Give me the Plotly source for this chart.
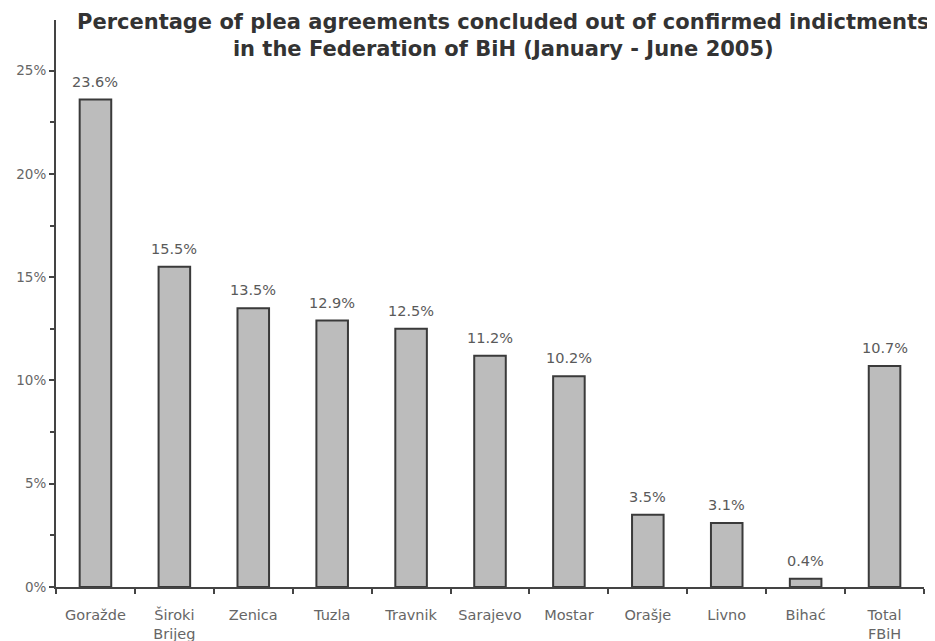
import plotly.graph_objects as go

categories = ["Goražde", "Široki<br>Brijeg", "Zenica", "Tuzla", "Travnik", "Sarajevo",
              "Mostar", "Orašje", "Livno", "Bihać", "Total<br>FBiH"]
values = [23.6, 15.5, 13.5, 12.9, 12.5, 11.2, 10.2, 3.5, 3.1, 0.4, 10.7]
value_labels = [f"{v:.1f}%" for v in values]
y_ticks = [0, 5, 10, 15, 20, 25]
y_tick_labels = [f"{t}%" for t in y_ticks]
title_text = ("Percentage of plea agreements concluded out of confirmed indictments<br>"
              "in the Federation of BiH (January - June 2005)")

fig = go.Figure(go.Bar(
    x=categories, y=values,
    marker=dict(color="#bcbcbc", line=dict(color="#3a3a3a", width=2)),
))

for c, v, lab in zip(categories, values, value_labels):
    fig.add_annotation(
        x=c, y=v, text=lab, showarrow=False,
        yanchor="middle", yshift=18,
        font=dict(family="DejaVu Sans", size=14.5, color="#5a5a5a"),
    )

fig.update_layout(
    width=935, height=641,
    paper_bgcolor="white", plot_bgcolor="white",
    margin=dict(l=48, r=19, t=12, b=62),
    bargap=0.6,
    showlegend=False,
    font=dict(family="DejaVu Sans", color="#666666"),
)

fig.add_annotation(
    text=title_text, xref="paper", yref="paper",
    x=0.516, xanchor="center", y=1.021, yanchor="top",
    showarrow=False, align="center",
    font=dict(family="DejaVu Sans", size=21, color="#333333", weight="bold"),
)

fig.update_xaxes(
    range=[-0.5, 10.5], automargin=False,
    showline=True, linecolor="#444444", linewidth=2,
    ticks="outside", tickson="boundaries", ticklen=5, tickcolor="#444444", tickwidth=2,
    ticklabelstandoff=14,
    tickfont=dict(size=14.5, color="#666666"),
    showgrid=False,
)
fig.update_yaxes(
    range=[0, 27.45], automargin=False,
    showline=True, linecolor="#444444", linewidth=2,
    tickvals=y_ticks, ticktext=y_tick_labels,
    ticks="outside", ticklen=5, tickcolor="#444444", tickwidth=2,
    minor=dict(dtick=2.5, ticks="outside", ticklen=4, tickcolor="#444444", tickwidth=1.5, showgrid=False),
    tickfont=dict(size=13.5, color="#666666"),
    showgrid=False, zeroline=False,
)

fig.write_html("out.html")
